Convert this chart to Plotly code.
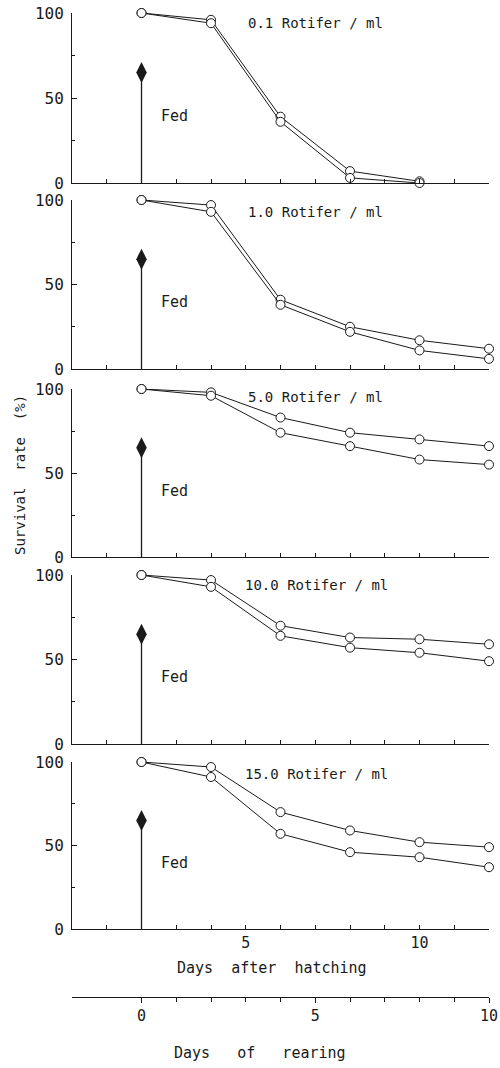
import plotly.graph_objects as go

# ---------------- data ----------------
days = [2, 4, 6, 8, 10, 12]
panel_titles = ["0.1 Rotifer / ml", "1.0 Rotifer / ml", "5.0 Rotifer / ml",
                "10.0 Rotifer / ml", "15.0 Rotifer / ml"]

upper_01 = [100, 96, 39, 7, 1]
lower_01 = [100, 94, 36, 3, 0]
upper_1 = [100, 97, 41, 25, 17, 12]
lower_1 = [100, 93, 38, 22, 11, 6]
upper_5 = [100, 98, 83, 74, 70, 66]
lower_5 = [100, 96, 74, 66, 58, 55]
upper_10 = [100, 97, 70, 63, 62, 59]
lower_10 = [100, 93, 64, 57, 54, 49]
upper_15 = [100, 97, 70, 59, 52, 49]
lower_15 = [100, 91, 57, 46, 43, 37]

fed_day = 2
fed_level = 65

hatch_tickvals = list(range(0, 13))
hatch_ticktext = ["", "", "", "", "", "5", "", "", "", "", "10", "", ""]
rearing_range = [-2, 10]
rearing_major = [0, 5, 10]
rearing_major_text = ["0", "5", "10"]

y_tickvals = [0, 50, 100]
y_ticktext = ["0", "50", "100"]

series = [(upper_01, lower_01), (upper_1, lower_1), (upper_5, lower_5),
          (upper_10, lower_10), (upper_15, lower_15)]

# ---------------- layout geometry ----------------
W, H = 500, 1068
X_DOM = [72 / W, 489 / W]
panel_px = [(13, 183), (200, 369), (389, 557), (575, 744), (762, 929)]
title_y = [94, 93, 95, 94, 93]
title_x = [5.0, 5.0, 5.0, 4.92, 4.92]

INK = "#1a1a1a"
FONT = "DejaVu Sans Mono"

fig = go.Figure()

for i, (up, lo) in enumerate(series):
    n = i + 1
    xa = "x" if n == 1 else f"x{n}"
    ya = "y" if n == 1 else f"y{n}"
    # feeding stem + diamond
    fig.add_trace(go.Scatter(
        x=[fed_day, fed_day], y=[0, fed_level], xaxis=xa, yaxis=ya,
        mode="lines", line=dict(color=INK, width=1.3),
        showlegend=False, hoverinfo="skip", cliponaxis=False))
    fig.add_trace(go.Scatter(
        x=[fed_day], y=[fed_level], xaxis=xa, yaxis=ya,
        mode="markers", marker=dict(symbol="diamond-tall", size=15, color=INK),
        showlegend=False, hoverinfo="skip", cliponaxis=False))
    for vals in (up, lo):
        fig.add_trace(go.Scatter(
            x=days[:len(vals)], y=vals, xaxis=xa, yaxis=ya,
            mode="lines+markers",
            line=dict(color=INK, width=1),
            marker=dict(symbol="circle", size=9, color="white",
                        line=dict(color=INK, width=1)),
            showlegend=False, cliponaxis=False))

    top, bot = panel_px[i]
    dom = [1 - bot / H, 1 - top / H]
    xkw = dict(domain=X_DOM, range=[0, 12], anchor=ya, showline=True,
               linecolor=INK, linewidth=1, showgrid=False, zeroline=False,
               automargin=False,
               ticks="inside", ticklen=4, tickcolor=INK, tickwidth=1,
               tickmode="array", tickvals=hatch_tickvals,
               ticktext=hatch_ticktext, showticklabels=(n == 5),
               tickfont=dict(family=FONT, size=15, color=INK))
    ykw = dict(domain=dom, range=[0, 100], anchor=xa, showline=True,
               linecolor=INK, linewidth=1, showgrid=False, zeroline=False,
               automargin=False,
               ticks="inside", ticklen=5, tickcolor=INK, tickwidth=1,
               tickmode="array", tickvals=y_tickvals, ticktext=y_ticktext,
               ticklabelstandoff=4,
               minor=dict(tickvals=[25, 75], ticks="inside", ticklen=3,
                          tickcolor=INK),
               tickfont=dict(family=FONT, size=16, color=INK))
    fig.update_layout(**{("xaxis" if n == 1 else f"xaxis{n}"): xkw,
                         ("yaxis" if n == 1 else f"yaxis{n}"): ykw})
    fig.add_annotation(x=title_x[i], y=title_y[i], xref=xa, yref=ya,
                       text=panel_titles[i], showarrow=False,
                       xanchor="left", yanchor="middle",
                       font=dict(family=FONT, size=14, color=INK))
    fig.add_annotation(x=2.5, y=39.5, xref=xa, yref=ya, text="Fed",
                       showarrow=False, xanchor="left", yanchor="middle",
                       font=dict(family=FONT, size=15, color=INK))

# rearing-day axis (secondary scale)
fig.add_trace(go.Scatter(x=rearing_range, y=[0, 0], xaxis="x6", yaxis="y6",
                         mode="lines", line=dict(width=0), showlegend=False,
                         hoverinfo="skip"))
fig.update_layout(
    xaxis6=dict(domain=X_DOM, range=rearing_range, anchor="y6", showline=True,
                linecolor=INK, linewidth=1.3, showgrid=False, zeroline=False,
                automargin=False,
                ticks="outside", ticklen=5, tickcolor=INK, tickwidth=1.2,
                tickmode="array", tickvals=rearing_major,
                ticktext=rearing_major_text,
                minor=dict(tickvals=list(range(0, 11)), ticks="outside",
                           ticklen=4, tickcolor=INK),
                tickfont=dict(family=FONT, size=15, color=INK)),
    yaxis6=dict(domain=[1 - 997 / H, 1 - 990 / H], anchor="x6", visible=False,
                automargin=False, range=[0, 1]),
)

fig.add_annotation(x=20 / W, y=1 - 475 / H, xref="paper", yref="paper",
                   text="Survival&nbsp;&nbsp;rate&nbsp;&nbsp;(%)", textangle=-90,
                   xanchor="center", yanchor="middle",
                   showarrow=False, font=dict(family=FONT, size=14, color=INK))
fig.add_annotation(x=272 / W, y=1 - 968 / H, xref="paper", yref="paper",
                   text="Days&nbsp;&nbsp;after&nbsp;&nbsp;hatching",
                   xanchor="center", yanchor="middle",
                   showarrow=False, font=dict(family=FONT, size=15, color=INK))
fig.add_annotation(x=260 / W, y=1 - 1053 / H, xref="paper", yref="paper",
                   text="Days&nbsp;&nbsp;&nbsp;of&nbsp;&nbsp;&nbsp;rearing",
                   xanchor="center", yanchor="middle",
                   showarrow=False, font=dict(family=FONT, size=15, color=INK))

fig.update_layout(template="none", width=W, height=H,
                  margin=dict(l=0, r=0, t=0, b=0, autoexpand=False),
                  paper_bgcolor="white", plot_bgcolor="white",
                  showlegend=False)

fig.write_html("out.html", config={"displayModeBar": False},
               post_script="document.body.style.margin='0px';"
                           "document.body.style.overflow='hidden';")
